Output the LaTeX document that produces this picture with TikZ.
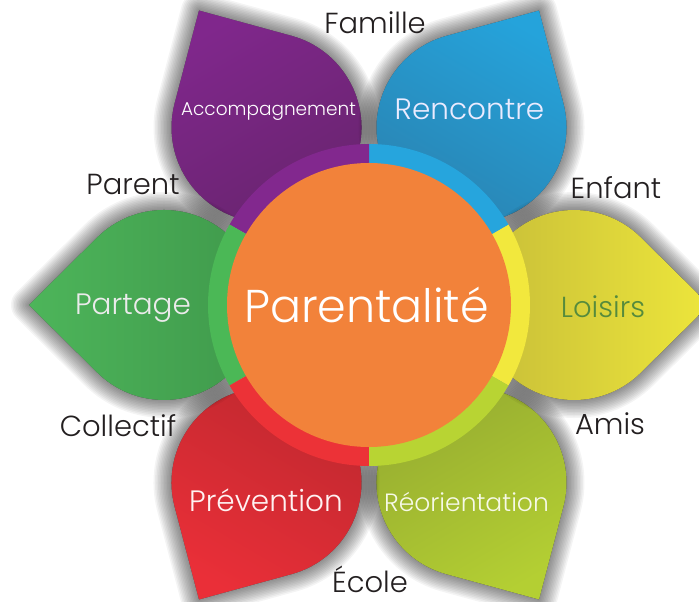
\documentclass[tikz,border=0pt]{standalone}
\usepackage{fontspec}
\setmainfont{Poppins}[UprightFont=* Light]
\definecolor{txt}{HTML}{231F20}
\definecolor{orangeC}{HTML}{F2823A}
\definecolor{purpleR}{HTML}{82288E}
\definecolor{purpleO}{HTML}{80278C}
\definecolor{purpleI}{HTML}{68246E}
\definecolor{blueR}{HTML}{26A5DD}
\definecolor{blueO}{HTML}{25A3DB}
\definecolor{blueI}{HTML}{2A82B0}
\definecolor{greenR}{HTML}{4BB856}
\definecolor{greenO}{HTML}{4DB55A}
\definecolor{greenI}{HTML}{3F984B}
\definecolor{yellowR}{HTML}{F2E83D}
\definecolor{yellowO}{HTML}{EDE63B}
\definecolor{yellowI}{HTML}{C6BC38}
\definecolor{limeR}{HTML}{B8D433}
\definecolor{limeO}{HTML}{B4CF33}
\definecolor{limeI}{HTML}{95AB30}
\definecolor{redR}{HTML}{EC3237}
\definecolor{redO}{HTML}{EA2F38}
\definecolor{redI}{HTML}{BE282F}
\definecolor{loisirsT}{HTML}{568B3C}
\tikzset{
  shadowlayer/.style={draw=black, fill=black, draw opacity=0.045, fill opacity=0.045, line join=round},
  outerlabel/.style={anchor=base, text=txt, font=\fontsize{29}{29}\selectfont, inner sep=0pt},
  petallabel/.style={anchor=base, text=white, inner sep=0pt},
}
\newcommand\petalpath{(340,0) -- (271.8,67.5) arc[start angle=45.3, end angle=314.7, radius=95] -- cycle}
% #1 angle, #2 inner colour, #3 outer colour
\newcommand\drawpetal[3]{%
  \begin{scope}[shift={(369,297)}, rotate=#1]
    \foreach \w in {3,6,...,36} {\path[shadowlayer, line width=\w pt] \petalpath;}
    \path[top color=#3, bottom color=#2, shading angle=#1-90] \petalpath;
  \end{scope}}
\newcommand\ringseg[2]{%
  \fill[#2] (369,297) -- ++(#1-30:161) arc[start angle=#1-30, end angle=#1+30, radius=161] -- cycle;}
\begin{document}
\begin{tikzpicture}[x=1pt,y=1pt]
\useasboundingbox (0,0) rectangle (699,602);
\fill[white] (0,0) rectangle (699,602);
\coordinate (c) at (369,297);
% petals
\drawpetal{300}{limeI}{limeO}
\drawpetal{240}{redI}{redO}
\drawpetal{120}{purpleI}{purpleO}
\drawpetal{180}{greenI}{greenO}
\drawpetal{60}{blueI}{blueO}
\drawpetal{0}{yellowI}{yellowO}
% ring
\ringseg{0}{yellowR}
\ringseg{60}{blueR}
\ringseg{120}{purpleR}
\ringseg{180}{greenR}
\ringseg{240}{redR}
\ringseg{300}{limeR}
\fill[orangeC] (c) circle[radius=142];
% labels
\node[petallabel, font=\fontsize{46}{46}\selectfont] (centre) at (366.5,279) {Parentalité};
\node[petallabel, font=\fontsize{18.5}{18.5}\selectfont] (acc) at (268.5,486) {Accompagnement};
\node[petallabel, font=\fontsize{29.5}{29.5}\selectfont, text=white!92!blue] (ren) at (469.5,482) {Rencontre};
\node[petallabel, font=\fontsize{29.5}{29.5}\selectfont, text=white!92!black] (par) at (133,287) {Partage};
\node[petallabel, font=\fontsize{29}{29}\selectfont, text=loisirsT] (loi) at (603,284) {Loisirs};
\node[petallabel, font=\fontsize{29.5}{29.5}\selectfont, text=white!95!red] (pre) at (266,90) {Prévention};
\node[petallabel, font=\fontsize{25}{25}\selectfont, text=white!88!limeO] (reo) at (466.5,90) {Réorientation};
\node[outerlabel] (fam) at (375,568) {Famille};
\node[outerlabel] (pa) at (133,407) {Parent};
\node[outerlabel] (enf) at (616,403) {Enfant};
\node[outerlabel] (col) at (118,165) {Collectif};
\node[outerlabel] (ami) at (610,167) {Amis};
\node[outerlabel] (eco) at (370,9) {École};
\end{tikzpicture}
\end{document}
